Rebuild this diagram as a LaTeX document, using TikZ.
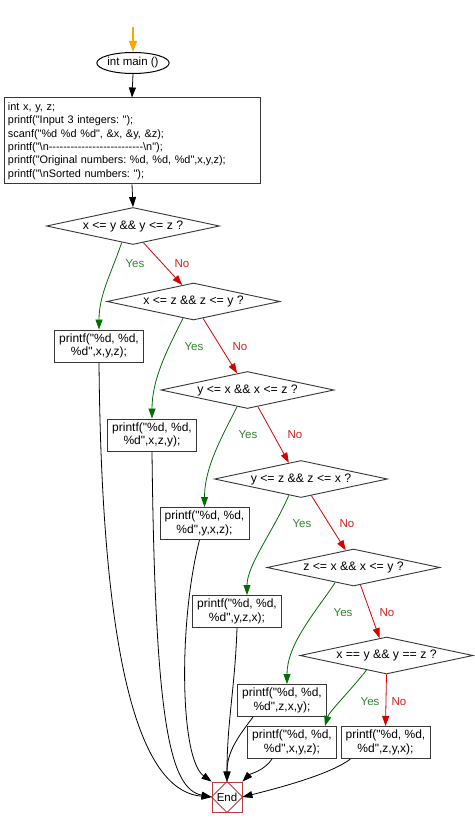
\documentclass[tikz,border=0pt]{standalone}
\usepackage{fontspec}
\setmainfont{Liberation Sans}[Ligatures=TeXOff]
\usetikzlibrary{shapes.geometric,arrows.meta,calc}
\frenchspacing
\definecolor{yesline}{RGB}{0,110,0}
\definecolor{yestext}{RGB}{50,130,50}
\definecolor{noline}{RGB}{215,0,0}
\definecolor{notext}{RGB}{215,30,30}
\definecolor{endred}{RGB}{185,60,60}
\definecolor{startor}{RGB}{255,165,0}
\definecolor{border}{RGB}{55,55,55}
\tikzset{
  base/.style={font=\fontsize{11.5pt}{13.4pt}\selectfont\frenchspacing, text=black},
  decision/.style={base, font=\fontsize{12.3pt}{14pt}\selectfont, diamond, draw=border, line width=0.9pt, inner sep=0pt, aspect=4.7, minimum width=173pt, minimum height=37pt},
  stmt/.style={base, font=\fontsize{12pt}{13.6pt}\selectfont, rectangle, draw=border, line width=1pt, inner sep=0pt, minimum width=89pt, minimum height=32pt, align=center},
  codebox/.style={base, font=\fontsize{10.9pt}{13.4pt}\selectfont\frenchspacing, rectangle, draw=border, line width=1pt, inner xsep=4pt, inner ysep=0pt, text width=248pt, minimum height=86pt, align=left},
  startnode/.style={base, ellipse, draw=black, line width=1pt, inner sep=0pt, minimum width=69pt, minimum height=21pt},
  endnode/.style={base, rectangle, draw=endred, line width=0.9pt, inner sep=0pt, minimum size=30pt},
  tip/.style={-{Triangle[length=10pt,width=7pt]}},
  flow/.style={tip, draw=black, line width=0.8pt},
  startflow/.style={-{Triangle[length=11pt,width=8pt]}, draw=startor, line width=1.4pt},
  yesflow/.style={tip, draw=yesline, line width=0.8pt},
  noflow/.style={tip, draw=noline, line width=0.8pt},
  yeslabel/.style={base, text=yestext},
  nolabel/.style={base, text=notext},
}
\begin{document}
\begin{tikzpicture}[x=1pt,y=-1pt]
\useasboundingbox[fill=white] (0,0) rectangle (474,826);
% nodes
\coordinate (s) at (133,27);
\node[startnode] (main) at (133,63) {int main ()};
\node[codebox] (code) at (132,141) {int x, y, z;\\
printf("Input 3 integers: ");\\
scanf("\%d \%d \%d", \&x, \&y, \&z);\\
printf("\textbackslash n--------------------------\textbackslash n");\\
printf("Original numbers: \%d, \%d, \%d",x,y,z);\\
printf("\textbackslash nSorted numbers: ");};
\node[decision] (d1) at (133,226) {x <= y \&\& y <= z ?};
\node[decision] (d2) at (193.5,301.5) {x <= z \&\& z <= y ?};
\node[decision] (d3) at (247.5,390) {y <= x \&\& x <= z ?};
\node[decision] (d4) at (301,479) {y <= z \&\& z <= x ?};
\node[decision] (d5) at (353.5,567.5) {z <= x \&\& x <= y ?};
\node[decision] (d6) at (386.5,655.5) {x == y \&\& y == z ?};
\node[stmt] (b1) at (99,346) {printf("\%d, \%d,\\ \%d",x,y,z);};
\node[stmt] (b2) at (152,435) {printf("\%d, \%d,\\ \%d",x,z,y);};
\node[stmt] (b3) at (204.5,523.5) {printf("\%d, \%d,\\ \%d",y,x,z);};
\node[stmt] (b4) at (237,611.5) {printf("\%d, \%d,\\ \%d",y,z,x);};
\node[stmt] (b5) at (282,700.5) {printf("\%d, \%d,\\ \%d",z,x,y);};
\node[stmt] (b6) at (292,742.5) {printf("\%d, \%d,\\ \%d",x,y,z);};
\node[stmt] (b7) at (385.5,742.5) {printf("\%d, \%d,\\ \%d",z,y,x);};
\node[endnode] (end) at (227,797) {};
\draw[endred, line width=0.8pt] (end.north) -- (end.east) -- (end.south) -- (end.west) -- cycle;
\node[base] (endtext) at (end.center) {End};
% labels
\node[yeslabel] (y1) at (135,264) {Yes};
\node[nolabel] (n1) at (182,264) {No};
\node[yeslabel] (y2) at (194,347) {Yes};
\node[nolabel] (n2) at (240,347) {No};
\node[yeslabel] (y3) at (248,435) {Yes};
\node[nolabel] (n3) at (295,435) {No};
\node[yeslabel] (y4) at (302,524) {Yes};
\node[nolabel] (n4) at (347,524) {No};
\node[yeslabel] (y5) at (343,613) {Yes};
\node[nolabel] (n5) at (387,613) {No};
\node[yeslabel] (y6) at (370,702) {Yes};
\node[nolabel] (n6) at (399,702) {No};
% main flow
\draw[startflow] (s) -- (main.north);
\draw[flow] (main.south) -- (code.north);
\draw[flow] (code.south) -- (d1.north);
% yes branches
\draw[yesflow] ($(d1.south)!0.13!(d1.west)$) .. controls +(-10,30) and +(0,-35) .. (b1.north);
\draw[yesflow] ($(d2.south)!0.12!(d2.west)$) .. controls +(-15,30) and +(0,-40) .. (b2.north);
\draw[yesflow] ($(d3.south)!0.12!(d3.west)$) .. controls +(-15,30) and +(0,-40) .. (b3.north);
\draw[yesflow] ($(d4.south)!0.14!(d4.west)$) .. controls +(-15,35) and +(0,-30) .. ($(b4.north)+(10,0)$);
\draw[yesflow] ($(d5.south)!0.21!(d5.west)$) .. controls +(-20,30) and +(0,-40) .. ($(b5.north)+(5,0)$);
\draw[yesflow] ($(d6.south)!0.23!(d6.west)$) .. controls +(-14,18) and +(4,-14) .. ($(b6.north)+(33,0)$);
% no branches
\draw[noflow] ($(d1.south)!0.12!(d1.east)$) -- ($(d2.north)!0.13!(d2.west)$);
\draw[noflow] ($(d2.south)!0.11!(d2.east)$) -- ($(d3.north)!0.12!(d3.west)$);
\draw[noflow] ($(d3.south)!0.12!(d3.east)$) -- ($(d4.north)!0.14!(d4.west)$);
\draw[noflow] ($(d4.south)!0.12!(d4.east)$) -- ($(d5.north)!0.09!(d5.west)$);
\draw[noflow] ($(d5.south)!0.08!(d5.east)$) -- ($(d6.north)!0.08!(d6.west)$);
\draw[noflow] (d6.south) -- (b7.north);
% to end
\draw[flow] (b1.south) .. controls +(3,338) and +(-62,-5) .. (end.west);
\draw[flow] (b2.south) .. controls +(3,270) and +(-42,-8) .. (end.west);
\draw[flow] ($(b3.south)+(-5,0)$) .. controls +(-21,81) and +(-32,-23) .. (end.north west);
\draw[flow] (b4.south) .. controls +(-2,60) and +(0,-60) .. (end.north);
\draw[flow] ($(b5.south)+(-29,0)$) .. controls +(-15,20) and +(0,-30) .. (end.north);
\draw[flow] ($(b6.south)+(-20,0)$) .. controls +(-8,12) and +(8,-8) .. (end.north east);
\draw[flow] ($(b7.south)+(-35,0)$) .. controls +(-20,15) and +(40,-10) .. (end.east);
\end{tikzpicture}
\end{document}
